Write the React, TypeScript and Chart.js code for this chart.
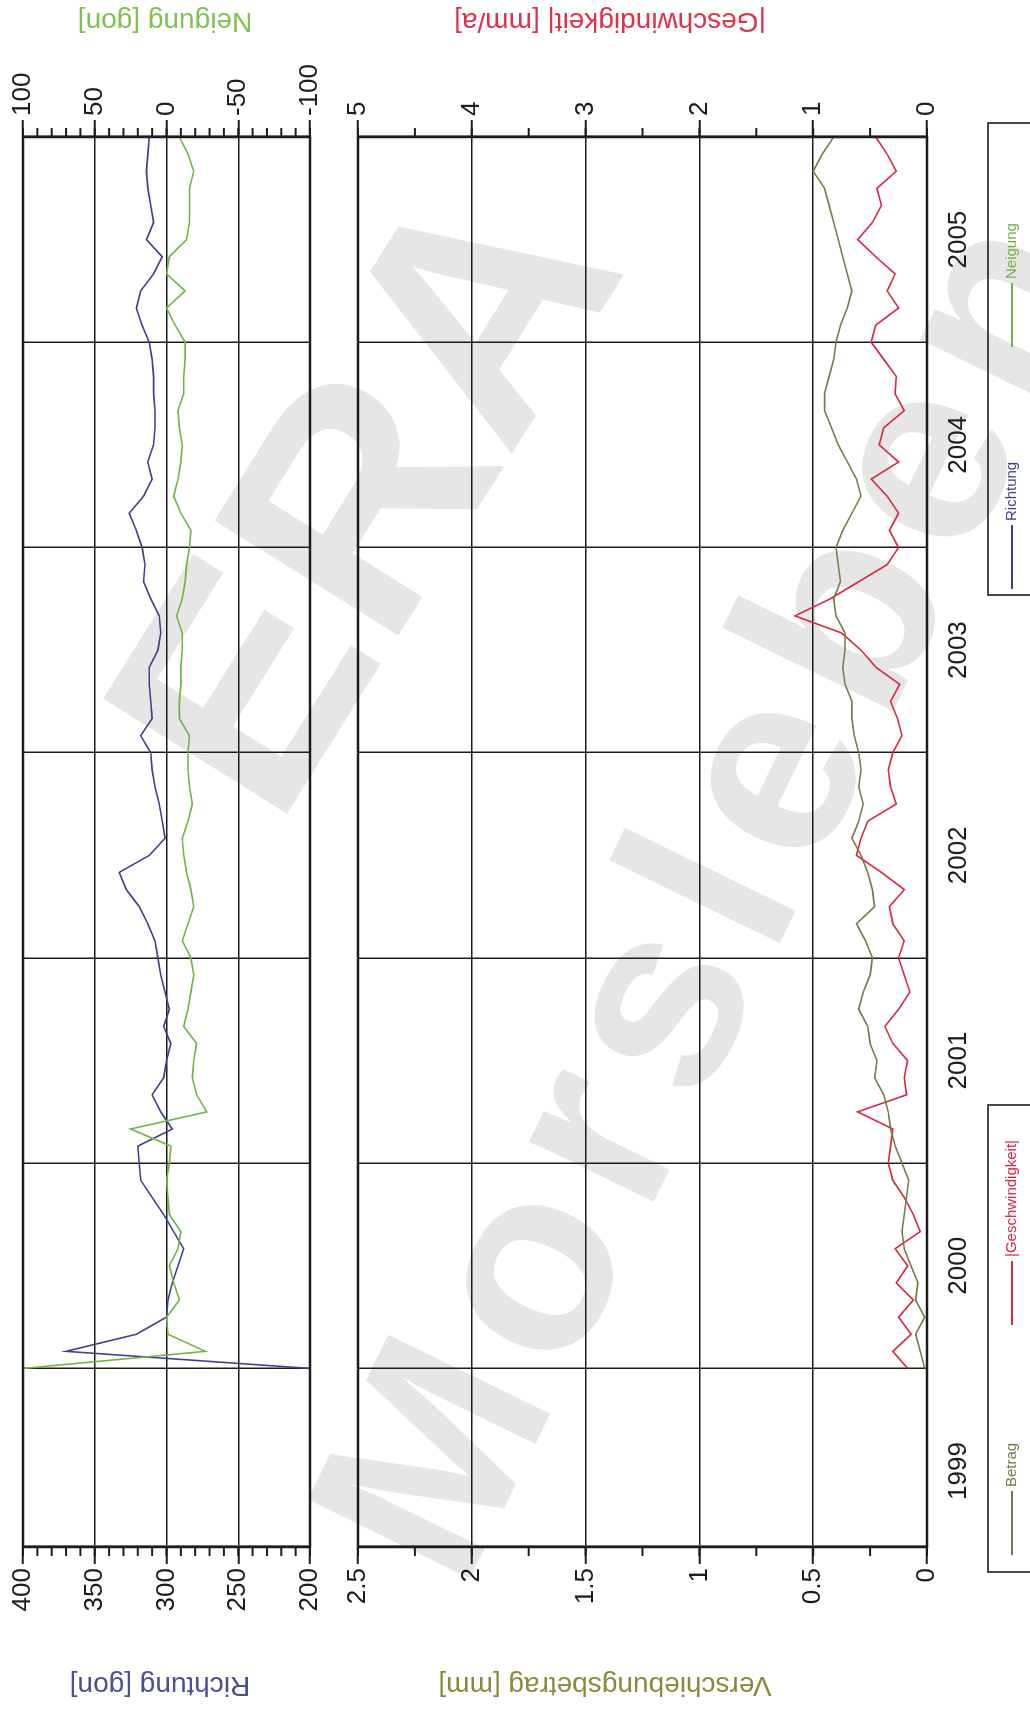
import React, { useEffect, useRef } from 'react';
import { Chart, registerables } from 'chart.js';

Chart.register(...registerables);

// ---------------- data ----------------
const epochs = [
  '2000-01','2000-02','2000-03','2000-04','2000-05','2000-06','2000-07','2000-08','2000-09','2000-10','2000-11','2000-12',
  '2001-01','2001-02','2001-03','2001-04','2001-05','2001-06','2001-07','2001-08','2001-09','2001-10','2001-11','2001-12',
  '2002-01','2002-02','2002-03','2002-04','2002-05','2002-06','2002-07','2002-08','2002-09','2002-10','2002-11','2002-12',
  '2003-01','2003-02','2003-03','2003-04','2003-05','2003-06','2003-07','2003-08','2003-09','2003-10','2003-11','2003-12',
  '2004-01','2004-02','2004-03','2004-04','2004-05','2004-06','2004-07','2004-08','2004-09','2004-10','2004-11','2004-12',
  '2005-01','2005-02','2005-03','2005-04','2005-05','2005-06','2005-07','2005-08','2005-09','2005-10','2005-11','2005-12',
  '2006-01',
];

const richtung = [
  200, 370, 321, 300, 299, 296, 292, 288, 295, 302, 310, 318,
  319, 320, 296, 304, 310, 302, 300, 297, 302, 298, 301, 304,
  306, 308, 313, 319, 328, 333, 312, 301, 303, 305, 308, 310,
  311, 318, 310, 311, 312, 312, 306, 304, 305, 311, 316, 315,
  317, 321, 326, 316, 310, 313, 309, 308, 308, 309, 309, 310,
  312, 317, 321, 318, 309, 303, 314, 309, 311, 313, 314, 313,
  312,
];

const neigung = [
  100, -27, -1, 0, -9, -5, -2, -8, -10, -2, -1, 0,
  -2, -3, 25, -28, -21, -18, -19, -21, -12, -15, -17, -19,
  -17, -11, -15, -19, -17, -14, -12, -11, -15, -18, -16, -15,
  -15, -16, -9, -9, -10, -10, -11, -11, -7, -11, -13, -14,
  -16, -17, -10, -5, -8, -10, -11, -9, -8, -12, -12, -13,
  -13, -6, 0, -13, 0, -2, -14, -16, -16, -16, -19, -15,
  -9,
];

const betrag = [
  0.01, 0.03, 0.05, 0.01, 0.05, 0.04, 0.07, 0.10, 0.11, 0.10, 0.09, 0.08,
  0.11, 0.14, 0.16, 0.17, 0.19, 0.23, 0.22, 0.25, 0.26, 0.30, 0.28, 0.25,
  0.24, 0.27, 0.31, 0.23, 0.24, 0.26, 0.29, 0.33, 0.30, 0.28, 0.30, 0.29,
  0.30, 0.32, 0.33, 0.33, 0.36, 0.37, 0.36, 0.36, 0.40, 0.41, 0.38, 0.39,
  0.40, 0.37, 0.33, 0.29, 0.31, 0.35, 0.39, 0.42, 0.45, 0.45, 0.43, 0.41,
  0.40, 0.38, 0.35, 0.33, 0.35, 0.37, 0.39, 0.41, 0.43, 0.45, 0.50, 0.46,
  0.41,
];

const geschwindigkeit = [
  0.17, 0.30, 0.14, 0.25, 0.12, 0.27, 0.17, 0.28, 0.06, 0.12, 0.20, 0.30,
  0.34, 0.32, 0.30, 0.61, 0.18, 0.20, 0.17, 0.30, 0.37, 0.25, 0.15, 0.20,
  0.25, 0.20, 0.30, 0.33, 0.20, 0.40, 0.62, 0.58, 0.52, 0.27, 0.32, 0.34,
  0.30, 0.22, 0.26, 0.32, 0.24, 0.45, 0.58, 0.75, 1.16, 0.85, 0.60, 0.35,
  0.25, 0.33, 0.25, 0.35, 0.49, 0.25, 0.42, 0.38, 0.20, 0.28, 0.27, 0.38,
  0.49, 0.45, 0.25, 0.35, 0.28, 0.45, 0.61, 0.48, 0.40, 0.44, 0.27, 0.35,
  0.45,
];

const axisStart = 1999.13;
const axisEnd = 2006;
const gridYears = [2000, 2001, 2002, 2003, 2004, 2005, 2006];
const yearLabels = ['1999', '2000', '2001', '2002', '2003', '2004', '2005'];

const seriesNames = ['Richtung', 'Neigung', 'Betrag', '|Geschwindigkeit|'];
const axisTitles = ['Richtung [gon]', 'Neigung [gon]', 'Verschiebungsbetrag [mm]', '|Geschwindigkeit| [mm/a]'];

// ---------------- styling ----------------
const FONT = "'Liberation Sans', Arial, Helvetica, sans-serif";
const INK = '#1c1c1c';
const C_R = '#3f3f8e';
const C_N = '#6fb545';
const C_B = '#7a7a46';
const C_G = '#d6283f';
const T_R = '#4d4d98';
const T_N = '#7fc250';
const T_B = '#8a8a3c';
const T_G = '#e2304a';

const LW = 1735; // landscape width (becomes page height)
const LH = 1030; // landscape height (becomes page width)
const A_H = 330;
const B_TOP = 335;
const B_H = LH - B_TOP;
const LEFT_W = 188;
const RIGHT_W = 137;
const MINOR_LEN = 9;

const toYear = (s: string) => {
  const [y, m] = s.split('-').map(Number);
  return y + (m - 1) / 12;
};
const pts = (vals: number[]) => epochs.map((e, i) => ({ x: toYear(e), y: vals[i] }));

const tickFont = { family: FONT, size: 26 };

const xScale = (showLabels: boolean, height: number) => ({
  type: 'linear',
  min: axisStart,
  max: axisEnd,
  afterBuildTicks: (s: any) => {
    const t = [
      ...gridYears.map((v) => ({ value: v })),
      ...yearLabels.map((l) => ({ value: Number(l) + 0.5 })),
    ].filter((k) => k.value >= axisStart && k.value <= axisEnd);
    t.sort((p, q) => p.value - q.value);
    s.ticks = t;
  },
  afterFit: (s: any) => {
    s.height = height;
  },
  ticks: {
    display: showLabels,
    autoSkip: false,
    maxRotation: 0,
    minRotation: 0,
    font: tickFont,
    color: INK,
    padding: 16,
    callback: (v: number) => {
      const l = yearLabels.find((y) => Number(y) + 0.5 === v);
      return l ?? '';
    },
  },
  grid: {
    drawTicks: false,
    lineWidth: 1.5,
    color: (c: any) => (c.tick && gridYears.includes(c.tick.value) ? INK : 'rgba(0,0,0,0)'),
  },
  border: { display: false },
});

const yScale = (pos: 'left' | 'right', min: number, max: number, step: number) => ({
  type: 'linear',
  position: pos,
  min,
  max,
  afterFit: (s: any) => {
    s.width = pos === 'left' ? LEFT_W : RIGHT_W;
  },
  ticks: {
    stepSize: step,
    font: tickFont,
    color: INK,
    padding: 4,
    callback: (v: number) => String(v),
  },
  grid: {
    drawOnChartArea: pos === 'left',
    color: INK,
    lineWidth: 1.5,
    tickLength: 17,
    tickWidth: 2,
    tickColor: INK,
  },
  border: { display: true, color: INK, width: 2.5 },
});

type Title = { text: string; x: number; y: number; color: string };
type LegendItem = { label: string; color: string; x: number };
type LegendBox = { x0: number; x1: number; y0: number; yText: number; items: LegendItem[] };

const makeDecor = (cfg: { minor: [string, number][]; titles: Title[]; legends: LegendBox[] }) => ({
  id: 'decor',
  afterDraw(chart: any) {
    const { ctx, chartArea: a } = chart;
    ctx.save();
    ctx.strokeStyle = INK;
    ctx.lineWidth = 2.5;
    ctx.strokeRect(a.left, a.top, a.right - a.left, a.bottom - a.top);

    ctx.lineWidth = 2;
    for (const [id, step] of cfg.minor) {
      const s = chart.scales[id];
      const n = Math.round((s.max - s.min) / step);
      for (let i = 0; i <= n; i++) {
        const p = s.getPixelForValue(s.min + i * step);
        ctx.beginPath();
        if (s.position === 'left') {
          ctx.moveTo(a.left, p);
          ctx.lineTo(a.left - MINOR_LEN, p);
        } else {
          ctx.moveTo(a.right, p);
          ctx.lineTo(a.right + MINOR_LEN, p);
        }
        ctx.stroke();
      }
    }

    for (const t of cfg.titles) {
      ctx.save();
      ctx.translate(t.x, t.y);
      ctx.rotate(-Math.PI / 2);
      ctx.font = `28px ${FONT}`;
      ctx.fillStyle = t.color;
      ctx.textAlign = 'center';
      ctx.textBaseline = 'middle';
      ctx.fillText(t.text, 0, 0);
      ctx.restore();
    }

    for (const L of cfg.legends) {
      ctx.strokeStyle = INK;
      ctx.lineWidth = 1.6;
      ctx.strokeRect(L.x0, L.y0, L.x1 - L.x0, 120);
      for (const it of L.items) {
        ctx.strokeStyle = it.color;
        ctx.lineWidth = 2.2;
        ctx.beginPath();
        ctx.moveTo(it.x, L.yText);
        ctx.lineTo(it.x + 64, L.yText);
        ctx.stroke();
        ctx.font = `15px ${FONT}`;
        ctx.fillStyle = it.color;
        ctx.textAlign = 'left';
        ctx.textBaseline = 'middle';
        ctx.fillText(it.label, it.x + 68, L.yText);
      }
    }
    ctx.restore();
  },
});

const lineDs = (label: string, vals: number[], axis: string, color: string) => ({
  label,
  data: pts(vals),
  yAxisID: axis,
  borderColor: color,
  backgroundColor: color,
  borderWidth: 1.6,
  pointRadius: 0,
  tension: 0,
  fill: false,
});

export default function App() {
  const refA = useRef<HTMLCanvasElement>(null);
  const refB = useRef<HTMLCanvasElement>(null);

  useEffect(() => {
    const common = {
      animation: false,
      responsive: false,
      events: [],
      plugins: { legend: { display: false }, tooltip: { enabled: false } },
    };

    const chartA = new Chart(refA.current as HTMLCanvasElement, {
      type: 'line',
      data: {
        datasets: [
          lineDs(seriesNames[1], neigung, 'yN', C_N),
          lineDs(seriesNames[0], richtung, 'yR', C_R),
        ],
      },
      options: {
        ...common,
        layout: { padding: { top: 23, bottom: 20, left: 0, right: 0 } },
        scales: {
          x: xScale(false, 0),
          yR: yScale('left', 200, 400, 50),
          yN: yScale('right', -100, 100, 50),
        },
      } as any,
      plugins: [
        makeDecor({
          minor: [['yR', 10], ['yN', 10]],
          titles: [
            { text: axisTitles[0], x: 50, y: 160, color: T_R },
            { text: axisTitles[1], x: 1714, y: 165, color: T_N },
          ],
          legends: [],
        }),
      ],
    } as any);

    const chartB = new Chart(refB.current as HTMLCanvasElement, {
      type: 'line',
      data: {
        datasets: [
          lineDs(seriesNames[2], betrag, 'yB', C_B),
          lineDs(seriesNames[3], geschwindigkeit, 'yG', C_G),
        ],
      },
      options: {
        ...common,
        layout: { padding: { top: 23, bottom: 0, left: 0, right: 0 } },
        scales: {
          x: xScale(true, B_H - 23 - 569),
          yB: yScale('left', 0, 2.5, 0.5),
          yG: yScale('right', 0, 5, 1),
        },
      } as any,
      plugins: [
        makeDecor({
          minor: [['yB', 0.25], ['yG', 0.5]],
          titles: [
            { text: axisTitles[2], x: 50, y: 270, color: T_B },
            { text: axisTitles[3], x: 1714, y: 275, color: T_G },
          ],
          legends: [
            {
              x0: 163, x1: 630, y0: 653, yText: 677,
              items: [
                { label: seriesNames[2], color: C_B, x: 180 },
                { label: seriesNames[3], color: C_G, x: 410 },
              ],
            },
            {
              x0: 1140, x1: 1612, y0: 653, yText: 677,
              items: [
                { label: seriesNames[0], color: C_R, x: 1146 },
                { label: seriesNames[1], color: C_N, x: 1388 },
              ],
            },
          ],
        }),
      ],
    } as any);

    return () => {
      chartA.destroy();
      chartB.destroy();
    };
  }, []);

  const wm: React.CSSProperties = {
    position: 'absolute',
    fontFamily: FONT,
    fontWeight: 700,
    color: '#e6e6e6',
    whiteSpace: 'nowrap',
    lineHeight: 1,
  };

  return (
    <div style={{ position: 'absolute', left: 0, top: 0, width: LH, height: LW, overflow: 'hidden', background: '#fff' }}>
      <div style={{ ...wm, left: 360, top: 492, fontSize: 315, transform: 'translate(-50%, -50%) rotate(-58deg)' }}>ERA</div>
      <div style={{ ...wm, left: 708, top: 885, fontSize: 262, letterSpacing: 20, transform: 'translate(-50%, -50%) rotate(-64deg)' }}>Morsleben</div>
      <div
        style={{
          position: 'absolute',
          left: 0,
          top: 0,
          width: LW,
          height: LH,
          transformOrigin: '0 0',
          transform: `translate(0px, ${LW}px) rotate(-90deg)`,
        }}
      >
        <canvas ref={refA} width={LW} height={A_H} style={{ position: 'absolute', left: 0, top: 0, width: LW, height: A_H }} />
        <canvas ref={refB} width={LW} height={B_H} style={{ position: 'absolute', left: 0, top: B_TOP, width: LW, height: B_H }} />
      </div>
    </div>
  );
}
